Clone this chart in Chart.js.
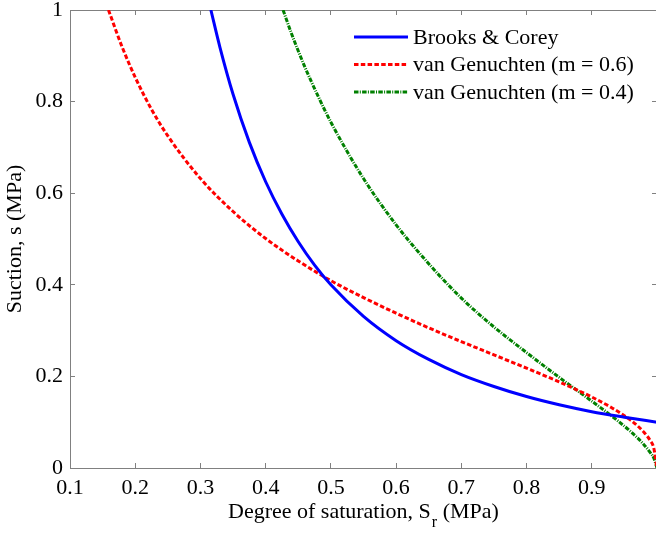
<!DOCTYPE html>
<html>
<head>
<meta charset="utf-8">
<title>Suction vs degree of saturation</title>
<script src="https://cdn.jsdelivr.net/npm/chart.js@4.4.1/dist/chart.umd.min.js"></script>
<style>
  html, body { margin: 0; padding: 0; overflow: hidden; background: #fff; }
  #wrap { width: 660px; height: 535px; }
</style>
</head>
<body>
<div id="wrap"><canvas id="retentionChart"></canvas></div>
<script>
// Degree of saturation (x) and suction in MPa (y)
const bcSr = [0.316, 0.33, 0.35, 0.375, 0.4, 0.425, 0.45, 0.475, 0.5, 0.55, 0.6, 0.65, 0.7, 0.75, 0.8, 0.85, 0.9, 0.95, 1.0];
const bcSuction = [1.0, 0.918, 0.816, 0.711, 0.625, 0.554, 0.494, 0.443, 0.400, 0.331, 0.278, 0.237, 0.204, 0.178, 0.156, 0.138, 0.123, 0.111, 0.100];

const vg6Sr = [0.159, 0.18, 0.2, 0.225, 0.25, 0.3, 0.35, 0.4, 0.45, 0.5, 0.55, 0.6, 0.65, 0.7, 0.75, 0.8, 0.85, 0.9, 0.93, 0.96, 0.98, 0.99, 0.995, 1.0];
const vg6Suction = [1.0, 0.919, 0.853, 0.783, 0.725, 0.632, 0.560, 0.501, 0.452, 0.409, 0.372, 0.338, 0.306, 0.276, 0.247, 0.218, 0.188, 0.155, 0.132, 0.104, 0.078, 0.059, 0.044, 0.0];

const vg4Sr = [0.4267, 0.44, 0.46, 0.48, 0.5, 0.55, 0.6, 0.65, 0.7, 0.75, 0.8, 0.85, 0.9, 0.93, 0.96, 0.98, 0.99, 0.995, 1.0];
const vg4Suction = [1.0, 0.947, 0.876, 0.813, 0.755, 0.632, 0.531, 0.446, 0.371, 0.308, 0.252, 0.198, 0.146, 0.114, 0.079, 0.051, 0.033, 0.022, 0.0];

const seriesNames = ['Brooks & Corey', 'van Genuchten (m = 0.6)', 'van Genuchten (m = 0.4)'];

const xTickValues = [0.1, 0.2, 0.3, 0.4, 0.5, 0.6, 0.7, 0.8, 0.9, 1.0];
const xTickLabels = ['0.1', '0.2', '0.3', '0.4', '0.5', '0.6', '0.7', '0.8', '0.9', ''];
const yTickValues = [0, 0.2, 0.4, 0.6, 0.8, 1.0];
const yTickLabels = ['0', '0.2', '0.4', '0.6', '0.8', '1'];

const FONT = '"Liberation Serif", "Times New Roman", serif';
const AXIS_GRAY = '#808080';

const toPoints = (xs, ys) => xs.map((x, i) => ({ x: x, y: ys[i] }));

// fixed axis sizes, no extra room for overhanging tick labels
const fixSize = (w, h) => scale => {
  if (w !== null) scale.width = w;
  if (h !== null) scale.height = h;
  scale.paddingLeft = 0;
  scale.paddingRight = 0;
  scale.paddingTop = 0;
  scale.paddingBottom = 0;
};

// MATLAB-ish legend (no box) drawn in the upper right of the plot
const cornerLegend = {
  id: 'cornerLegend',
  afterDraw(chart) {
    const ctx = chart.ctx;
    ctx.save();
    chart.data.datasets.forEach((ds, i) => {
      const y = 37 + i * 27.5;
      ctx.strokeStyle = ds.borderColor;
      ctx.lineWidth = ds.borderWidth;
      ctx.setLineDash(ds.borderDash || []);
      ctx.beginPath();
      ctx.moveTo(354, y);
      ctx.lineTo(408, y);
      ctx.stroke();
      ctx.setLineDash([]);
      ctx.fillStyle = '#000';
      ctx.font = '22px ' + FONT;
      ctx.textBaseline = 'middle';
      ctx.textAlign = 'left';
      ctx.fillText(ds.label, 413, y + 1);
    });
    ctx.restore();
  }
};

// x axis title with a subscript r
const xTitle = {
  id: 'xTitle',
  afterDraw(chart) {
    const ctx = chart.ctx;
    ctx.save();
    ctx.fillStyle = '#000';
    ctx.textBaseline = 'alphabetic';
    ctx.textAlign = 'left';
    let x = 228;
    const base = 518;
    ctx.font = '22px ' + FONT;
    const part1 = 'Degree of saturation, S';
    ctx.fillText(part1, x, base);
    x += ctx.measureText(part1).width;
    ctx.font = '16px ' + FONT;
    ctx.fillText('r', x + 1, base + 9);
    x += ctx.measureText('r').width + 1;
    ctx.font = '22px ' + FONT;
    ctx.fillText(' (MPa)', x, base);
    ctx.restore();
  }
};

const axisGrid = { display: true, drawOnChartArea: false, drawTicks: true, tickLength: -5, color: AXIS_GRAY, lineWidth: 1 };
const axisBorder = { display: true, color: AXIS_GRAY, width: 1 };

const ctx = document.getElementById('retentionChart').getContext('2d');
new Chart(ctx, {
  type: 'line',
  data: {
    datasets: [
      {
        label: seriesNames[0],
        data: toPoints(bcSr, bcSuction),
        borderColor: 'rgb(0, 0, 255)',
        borderWidth: 3,
        pointRadius: 0,
        fill: false,
        cubicInterpolationMode: 'monotone'
      },
      {
        label: seriesNames[1],
        data: toPoints(vg6Sr, vg6Suction),
        borderColor: 'rgb(255, 0, 0)',
        borderWidth: 3,
        borderDash: [4.5, 2.3],
        pointRadius: 0,
        fill: false,
        cubicInterpolationMode: 'monotone'
      },
      {
        label: seriesNames[2],
        data: toPoints(vg4Sr, vg4Suction),
        borderColor: 'rgb(0, 128, 0)',
        borderWidth: 3,
        borderDash: [4.5, 1.3, 1, 1.3],
        pointRadius: 0,
        fill: false,
        cubicInterpolationMode: 'monotone'
      }
    ]
  },
  options: {
    responsive: true,
    maintainAspectRatio: false,
    animation: false,
    layout: { padding: 0 },
    plugins: {
      legend: { display: false },
      tooltip: { enabled: false }
    },
    scales: {
      x: {
        type: 'linear',
        position: 'bottom',
        min: 0.1,
        max: 1,
        afterBuildTicks: axis => { axis.ticks = xTickValues.map(v => ({ value: v })); },
        afterFit: fixSize(null, 67),
        grid: axisGrid,
        border: axisBorder,
        ticks: {
          color: '#000',
          padding: 12,
          maxRotation: 0,
          autoSkip: false,
          font: { family: FONT, size: 22 },
          callback: (v, i) => xTickLabels[i]
        }
      },
      y: {
        type: 'linear',
        position: 'left',
        min: 0,
        max: 1,
        afterBuildTicks: axis => { axis.ticks = yTickValues.map(v => ({ value: v })); },
        afterFit: fixSize(70, null),
        grid: axisGrid,
        border: axisBorder,
        ticks: {
          color: '#000',
          padding: 12,
          autoSkip: false,
          font: { family: FONT, size: 22 },
          callback: (v, i) => yTickLabels[i]
        },
        title: {
          display: true,
          text: 'Suction, s (MPa)',
          color: '#000',
          font: { family: FONT, size: 22 },
          padding: { top: 2, bottom: 0 }
        }
      },
      x2: {
        type: 'linear',
        position: 'top',
        min: 0.1,
        max: 1,
        afterBuildTicks: axis => { axis.ticks = xTickValues.map(v => ({ value: v })); },
        afterFit: fixSize(null, 10),
        grid: axisGrid,
        border: axisBorder,
        ticks: { display: false }
      },
      y2: {
        type: 'linear',
        position: 'right',
        min: 0,
        max: 1,
        afterBuildTicks: axis => { axis.ticks = yTickValues.map(v => ({ value: v })); },
        afterFit: fixSize(3, null),
        grid: axisGrid,
        border: axisBorder,
        ticks: { display: false }
      }
    }
  },
  plugins: [cornerLegend, xTitle]
});
</script>
</body>
</html>
